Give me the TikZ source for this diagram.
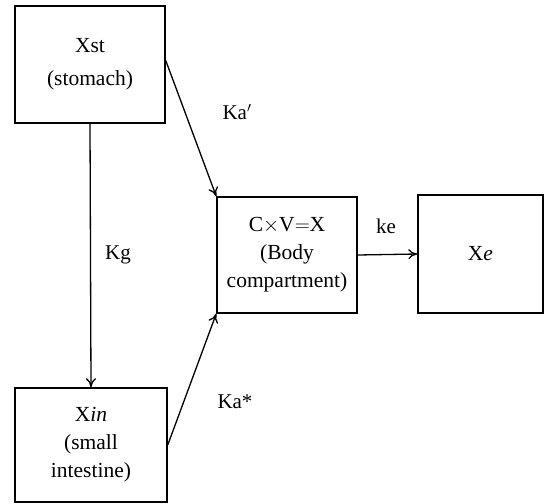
\documentclass[tikz,border=0pt]{standalone}
\usepackage{fontspec}
\setmainfont{Liberation Serif}
\usetikzlibrary{arrows.meta}
\begin{document}
\begin{tikzpicture}[x=1pt,y=-1pt,
  box/.style={draw,line width=1.5pt,align=center,inner sep=0pt,font=\fontsize{21.5}{28}\selectfont},
  conn/.style={line width=1.3pt,-{To[length=9pt,width=10pt,line width=1.3pt]}},
  lab/.style={font=\fontsize{21}{24}\selectfont,inner sep=0pt}]
\useasboundingbox (0,0) rectangle (550,504);
\node[box,minimum width=150pt,minimum height=117pt] (xst) at (90,64.5) {Xst\\[5pt](stomach)};
\node[box,minimum width=152pt,minimum height=114pt] (xin) at (91,445) {X\textit{in}\\(small\\intestine)};
\node[box,minimum width=140pt,minimum height=116pt] (body) at (287,255) {C$\times$V$=$X\\(Body\\compartment)};
\node[box,minimum width=125pt,minimum height=118pt] (xe) at (480.5,254) {X\textit{e}};
\draw[conn] (xst.south) -- (xin.north);
\draw[conn] ([yshift=4pt]xst.east) -- (body.north west);
\draw[conn] (xin.east) -- (body.south west);
\draw[conn] (body.east) -- (xe.west);
\node[lab] (kg) at (118,255) {Kg};
\node[lab] (ka1) at (237,112) {Ka$'$};
\node[lab] (ka2) at (235,402) {Ka*};
\node[lab] (ke) at (386,226) {ke};
\end{tikzpicture}
\end{document}
